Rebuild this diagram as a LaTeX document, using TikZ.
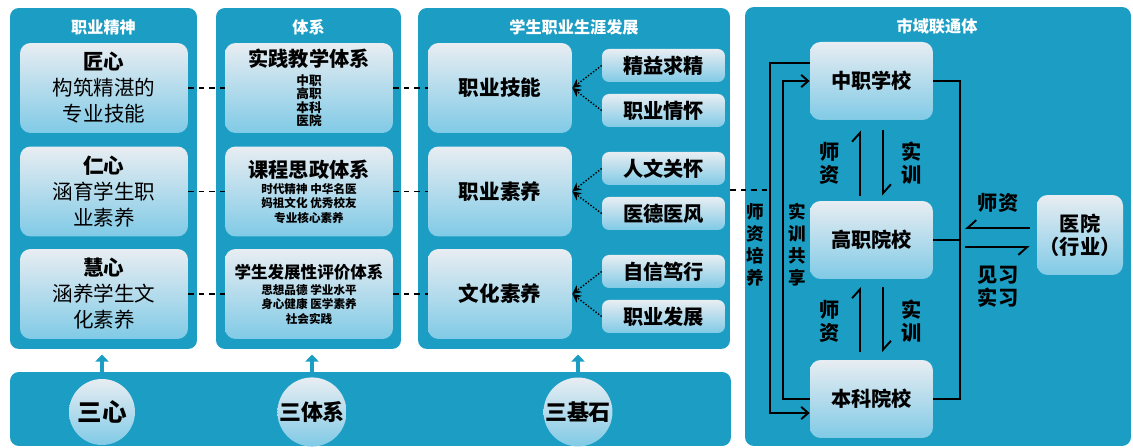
\documentclass[tikz,border=0pt]{standalone}
\usepackage{fontspec}
\setmainfont{Noto Sans CJK SC}
\usetikzlibrary{arrows.meta}

\definecolor{panelblue}{RGB}{28,158,196}
\definecolor{boxtop}{RGB}{232,237,242}
\definecolor{boxbot}{RGB}{128,202,230}

\begin{document}
\begin{tikzpicture}[x=0.02cm,y=-0.02cm,
  panel/.style={fill=panelblue,rounded corners=5pt,inner sep=0pt},
  title/.style={text=white,font=\fontsize{9.2}{11}\selectfont\bfseries},
  box/.style={rounded corners=6pt,top color=boxtop,bottom color=boxbot,minimum width=3.36cm,minimum height=1.8cm,inner sep=0pt,align=center},
  sbox/.style={box,minimum width=2.46cm,minimum height=.66cm,rounded corners=4pt,font=\fontsize{11.5}{13}\selectfont\bfseries},
  school/.style={box,minimum width=2.46cm,minimum height=1.56cm,font=\fontsize{11.5}{13}\selectfont\bfseries},
  ball/.style={circle,top color=boxtop,bottom color=boxbot,minimum size=1.32cm,inner sep=0pt,font=\fontsize{12.5}{14}\selectfont\bfseries},
  tag/.style={align=center,font=\fontsize{11.5}{13}\selectfont\bfseries},
  link/.style={line width=1.1pt},
  harp/.style={line width=1.1pt},
  dashline/.style={line width=1pt,dashed},
  dotarr/.style={line width=.8pt,densely dotted,-{Stealth[length=5pt,width=5pt]}},
  uparr/.style={panelblue,line width=2.8pt,-{Triangle[length=4pt,width=7.5pt]},shorten >=3pt}]

\useasboundingbox (0,0) rectangle (1133,448);

\node[panel,minimum width=3.74cm,minimum height=6.82cm] (p1) at (103.5,178.5) {};
\node[panel,minimum width=3.7cm,minimum height=6.82cm] (p2) at (308.5,178.5) {};
\node[panel,minimum width=6.24cm,minimum height=6.82cm] (p3) at (574,178.5) {};
\node[panel,minimum width=7.72cm,minimum height=8.78cm] (p4) at (938,226.5) {};
\node[panel,minimum width=14.42cm,minimum height=1.48cm] (base) at (370.5,409) {};

\node[title] (h1) at (103.5,27) {职业精神};
\node[title] (h2) at (308.5,27) {体系};
\node[title] (h3) at (574,27) {学生职业生涯发展};
\node[title] (h4) at (937,26) {市域联通体};

\node[box,font=\fontsize{11.7}{14.8}\selectfont] (x1) at (104,88) {\textbf{匠心}\\构筑精湛的\\专业技能};
\node[box,font=\fontsize{11.7}{14.8}\selectfont] (x2) at (104,191.5) {\textbf{仁心}\\涵育学生职\\业素养};
\node[box,font=\fontsize{11.7}{14.8}\selectfont] (x3) at (104,294) {\textbf{慧心}\\涵养学生文\\化素养};

\node[box,font=\fontsize{7.2}{7.7}\selectfont\bfseries] (t1) at (309,88)
  {{\fontsize{11.5}{13}\selectfont 实践教学体系}\\[3pt]中职\\高职\\本科\\医院};
\node[box,font=\fontsize{6.6}{8.2}\selectfont\bfseries] (t2) at (309,191.5)
  {{\fontsize{11.5}{13}\selectfont 课程思政体系}\\[1pt]时代精神 中华名医\\妈祖文化 优秀校友\\专业核心素养};
\node[box,font=\fontsize{6.6}{8.2}\selectfont\bfseries] (t3) at (309,294)
  {{\fontsize{9.4}{11}\selectfont 学生发展性评价体系}\\[1pt]思想品德 学业水平\\身心健康 医学素养\\社会实践};

\node[box,minimum width=2.88cm,font=\fontsize{11.7}{14}\selectfont\bfseries] (k1) at (500,88) {职业技能};
\node[box,minimum width=2.88cm,font=\fontsize{11.7}{14}\selectfont\bfseries] (k2) at (500,191.5) {职业素养};
\node[box,minimum width=2.88cm,font=\fontsize{11.7}{14}\selectfont\bfseries] (k3) at (500,294) {文化素养};

\node[sbox] (s1) at (663.5,65.5) {精益求精};
\node[sbox] (s2) at (663.5,110.5) {职业情怀};
\node[sbox] (s3) at (663.5,168.5) {人文关怀};
\node[sbox] (s4) at (663.5,213.5) {医德医风};
\node[sbox] (s5) at (663.5,271.5) {自信笃行};
\node[sbox] (s6) at (663.5,316.5) {职业发展};

\draw[dotarr] (s1.west) -- (k1.east);
\draw[dotarr] (s2.west) -- (k1.east);
\draw[dotarr] (s3.west) -- (k2.east);
\draw[dotarr] (s4.west) -- (k2.east);
\draw[dotarr] (s5.west) -- (k3.east);
\draw[dotarr] (s6.west) -- (k3.east);

\node[school] (zx) at (871.5,81) {中职学校};
\node[school] (gz) at (871.5,240) {高职院校};
\node[school] (bk) at (871.5,399) {本科院校};
\node[school,minimum width=1.72cm,minimum height=1.6cm] (yy) at (1080,235) {医院\\（行业）};

\coordinate (tr1) at (770,0);
\coordinate (tr2) at (783,0);
\coordinate (tr3) at (960,0);

\draw[dashline] (x1.east) -- (t1.west) (t1.east) -- (k1.west);
\draw[dashline] (x2.east) -- (t2.west) (t2.east) -- (k2.west);
\draw[dashline] (x3.east) -- (t3.west) (t3.east) -- (k3.west);
\draw[dashline] ([yshift=.03cm]p3.east |- k2) -- ([yshift=.03cm]tr1 |- k2);

\draw[link,-{Straight Barb[length=4pt,width=7pt]}] ([yshift=.36cm]zx.west) -- ([yshift=.36cm]zx.west -| tr1)
  -- ([yshift=-.28cm]bk.west -| tr1) -- ([yshift=-.28cm]bk.west);
\draw[link,-{Straight Barb[length=4pt,width=7pt]}] (bk.west) -- (bk.west -| tr2) -- (zx.west -| tr2) -- (zx.west);
\draw[link] (zx.east) -- (zx.east -| tr3) -- (bk.east -| tr3) -- (bk.east);
\draw[link] (gz.east) -- (gz.east -| tr3);

\draw[harp,-{Straight Barb[harpoon,length=5pt,width=9pt]},shorten <=.1cm,shorten >=.2cm] ([xshift=-.23cm]gz.north) -- ([xshift=-.23cm]zx.south);
\draw[harp,-{Straight Barb[harpoon,length=5pt,width=9pt]},shorten <=.2cm,shorten >=.1cm] ([xshift=.23cm]zx.south) -- ([xshift=.23cm]gz.north);
\draw[harp,-{Straight Barb[harpoon,length=5pt,width=9pt]},shorten <=.15cm,shorten >=.15cm] ([xshift=-.23cm]bk.north) -- ([xshift=-.23cm]gz.south);
\draw[harp,-{Straight Barb[harpoon,length=5pt,width=9pt]},shorten <=.15cm,shorten >=.15cm] ([xshift=.23cm]gz.south) -- ([xshift=.23cm]bk.north);
\draw[harp,-{Straight Barb[harpoon,swap,length=5pt,width=9pt]}] ([yshift=.14cm,xshift=-.14cm]yy.west) -- ([yshift=.14cm,xshift=.1cm]yy.west -| tr3);
\draw[harp,-{Straight Barb[harpoon,swap,length=5pt,width=9pt]}] ([yshift=-.24cm,xshift=.1cm]yy.west -| tr3) -- ([yshift=-.24cm,xshift=-.14cm]yy.west);

\node[tag,font=\fontsize{10}{12.5}\selectfont\bfseries] (sz1) at (755,245) {师\\资\\培\\养};
\node[tag,font=\fontsize{10}{12.5}\selectfont\bfseries] (sx1) at (797,245) {实\\训\\共\\享};
\node[tag] (sz2) at (830,163) {师\\资};
\node[tag] (sx2) at (912,163) {实\\训};
\node[tag] (sz3) at (830,321) {师\\资};
\node[tag] (sx3) at (912,321) {实\\训};
\node[tag] (sz4) at (998,203) {师资};
\node[tag] (jx) at (998,287) {见习\\实习};

\node[ball,font=\fontsize{14}{16}\selectfont\bfseries] (c1) at (102,412) {三心};
\node[ball] (c2) at (312,412) {三体系};
\node[ball] (c3) at (578,412) {三基石};
\draw[uparr] (c1.north) -- (c1.north |- p1.south);
\draw[uparr] (c2.north) -- (c2.north |- p2.south);
\draw[uparr] (c3.north) -- (c3.north |- p3.south);

\end{tikzpicture}
\end{document}
